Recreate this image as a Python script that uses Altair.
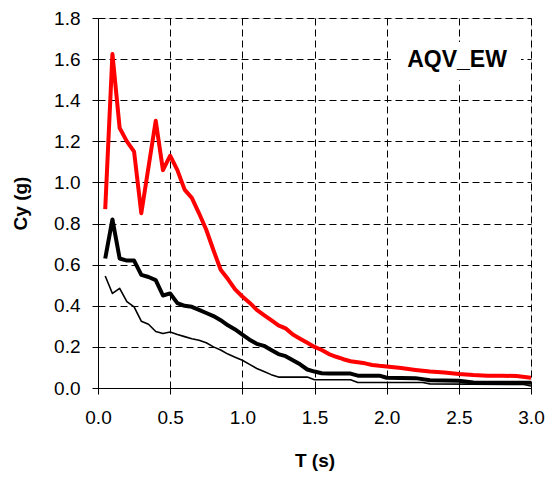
import altair as alt
import pandas as pd

# Red spectrum
red_T = [0.05, 0.10, 0.15, 0.20, 0.25, 0.30, 0.40, 0.45, 0.50, 0.55, 0.60, 0.65, 0.70, 0.75,
         0.80, 0.85, 0.90, 0.95, 1.00, 1.05, 1.10, 1.15, 1.20, 1.25, 1.30, 1.35, 1.40, 1.45,
         1.50, 1.55, 1.60, 1.65, 1.70, 1.75, 1.80, 1.85, 1.90, 1.95, 2.00, 2.10, 2.20, 2.30,
         2.40, 2.50, 2.60, 2.70, 2.80, 2.90, 3.00]
red_Cy = [0.87, 1.625, 1.265, 1.20, 1.15, 0.85, 1.30, 1.06, 1.13, 1.06, 0.965, 0.925, 0.85, 0.77,
          0.67, 0.575, 0.53, 0.48, 0.445, 0.415, 0.38, 0.355, 0.33, 0.305, 0.29, 0.26, 0.24, 0.22,
          0.20, 0.185, 0.165, 0.152, 0.14, 0.13, 0.125, 0.12, 0.112, 0.108, 0.105, 0.097, 0.088, 0.08,
          0.075, 0.068, 0.063, 0.06, 0.06, 0.058, 0.05]

# Thick black spectrum
thick_T = [0.05, 0.10, 0.15, 0.20, 0.25, 0.30, 0.35, 0.40, 0.45, 0.50, 0.55, 0.60, 0.65, 0.70,
           0.75, 0.80, 0.85, 0.90, 0.95, 1.00, 1.05, 1.10, 1.15, 1.20, 1.25, 1.30, 1.35, 1.40,
           1.45, 1.50, 1.55, 1.60, 1.75, 1.80, 1.95, 2.00, 2.20, 2.30, 2.50, 2.60, 3.00]
thick_Cy = [0.63, 0.82, 0.63, 0.62, 0.62, 0.55, 0.54, 0.525, 0.45, 0.46, 0.413, 0.40, 0.395, 0.38,
            0.365, 0.35, 0.33, 0.305, 0.285, 0.26, 0.235, 0.215, 0.205, 0.185, 0.165, 0.155, 0.135, 0.115,
            0.09, 0.08, 0.072, 0.07, 0.07, 0.06, 0.06, 0.05, 0.048, 0.038, 0.035, 0.027, 0.025]

# Thin black spectrum
thin_T = [0.05, 0.10, 0.15, 0.20, 0.25, 0.30, 0.35, 0.40, 0.45, 0.50, 0.55, 0.60, 0.65, 0.70,
          0.75, 0.80, 0.85, 0.90, 0.95, 1.00, 1.05, 1.10, 1.15, 1.20, 1.25, 1.45, 1.50, 1.75,
          1.80, 2.25, 2.30, 2.95, 3.00]
thin_Cy = [0.545, 0.46, 0.485, 0.42, 0.395, 0.325, 0.31, 0.275, 0.265, 0.272, 0.26, 0.25, 0.24, 0.232,
           0.22, 0.20, 0.185, 0.165, 0.15, 0.135, 0.115, 0.095, 0.08, 0.065, 0.053, 0.053, 0.04, 0.04,
           0.027, 0.027, 0.02, 0.017, 0.01]

x_ticks = [0.0, 0.5, 1.0, 1.5, 2.0, 2.5, 3.0]
y_ticks = [0.0, 0.2, 0.4, 0.6, 0.8, 1.0, 1.2, 1.4, 1.6, 1.8]
station_label = "AQV_EW"

FONT = "Liberation Sans"

x_scale = alt.Scale(domain=[0, 3.0], nice=False, zero=False)
y_scale = alt.Scale(domain=[0, 1.8], nice=False)

x_axis = alt.Axis(values=x_ticks, format=".1f", title="T (s)", grid=True,
                  gridColor="black", gridDash=[7, 4], gridWidth=1,
                  domainColor="black", tickColor="black", tickSize=6,
                  labelPadding=14, labelFontSize=19, labelColor="black", labelFlush=False,
                  titleFontSize=19, titleFont=FONT, labelFont=FONT,
                  titleFontWeight="bold", titleColor="black", titlePadding=24)
y_axis = alt.Axis(values=y_ticks, format=".1f", title="Cy (g)", grid=True,
                  gridColor="black", gridDash=[7, 4], gridWidth=1,
                  domainColor="black", tickColor="black", tickSize=6,
                  labelPadding=12, labelFontSize=19, labelColor="black", labelFlush=False,
                  titleFontSize=19, titleFont=FONT, labelFont=FONT,
                  titleFontWeight="bold", titleColor="black", titlePadding=23)


def series(T, Cy, color, width):
    df = pd.DataFrame({"T": T, "Cy": Cy})
    return alt.Chart(df).mark_line(color=color, strokeWidth=width, strokeJoin="round",
                                   clip=True).encode(
        x=alt.X("T:Q", scale=x_scale, axis=x_axis),
        y=alt.Y("Cy:Q", scale=y_scale, axis=y_axis),
    )


thin = series(thin_T, thin_Cy, "black", 1.6)
thick = series(thick_T, thick_Cy, "black", 4)
red = series(red_T, red_Cy, "#ff0000", 4)

label_df = pd.DataFrame({"label": [station_label]})
box = alt.Chart(label_df).mark_rect(color="white").encode(
    x=alt.value(293), x2=alt.value(423), y=alt.value(24), y2=alt.value(62)
)
text = alt.Chart(label_df).mark_text(font=FONT, fontSize=23, fontWeight="bold",
                                     color="black", align="center", baseline="middle").encode(
    x=alt.value(359), y=alt.value(42), text="label:N"
)

chart = alt.layer(thin, thick, red, box, text).properties(
    width=433, height=370,
    autosize=alt.AutoSizeParams(type="none"),
    padding={"left": 90, "top": 10, "right": 14, "bottom": 86},
).configure_view(stroke="black", strokeWidth=1).configure(background="white")

chart.save("out.html", embed_options={"renderer": "svg", "actions": False})
